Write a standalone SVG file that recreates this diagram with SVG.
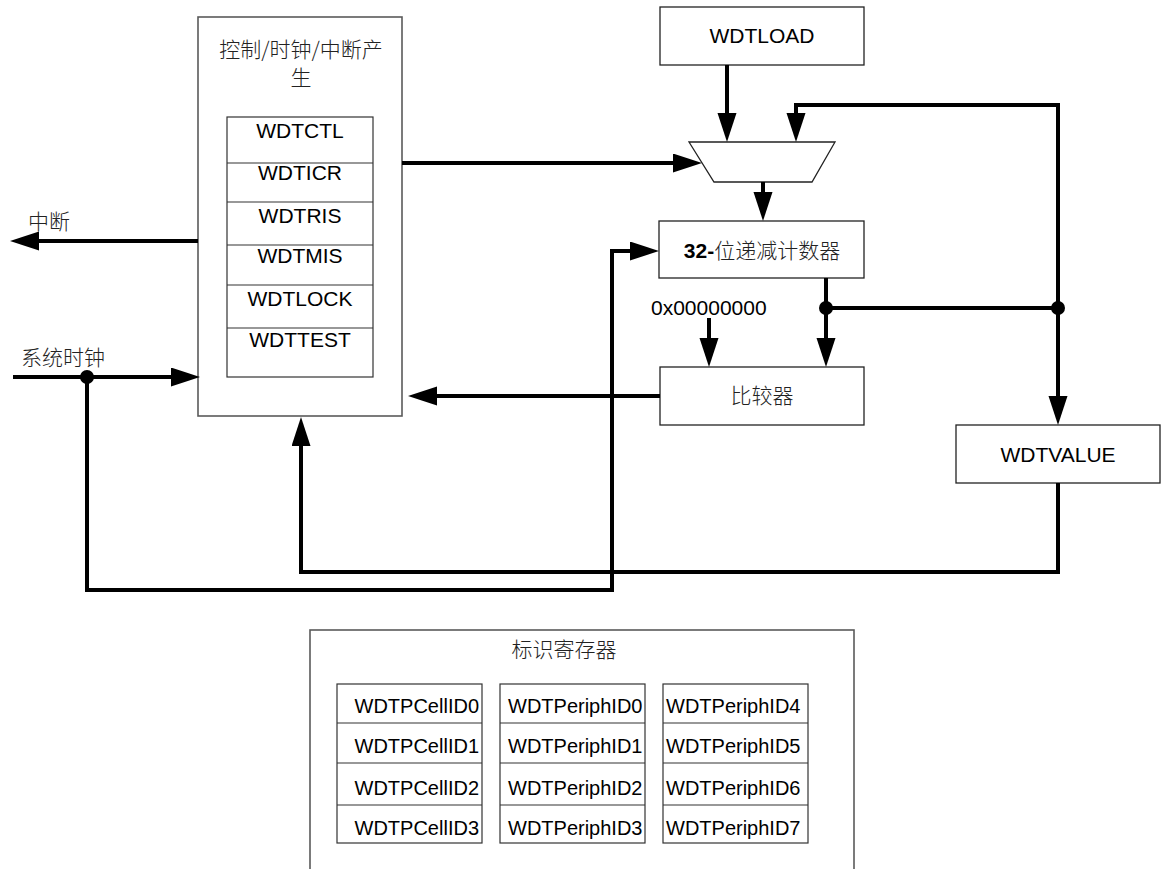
<svg xmlns="http://www.w3.org/2000/svg" width="1161" height="869" viewBox="0 0 1161 869">
<style>
.bg{fill:#fff}
.outer{fill:#fff;stroke:#5a5a5a;stroke-width:1.6}
.box{fill:#fff;stroke:#222;stroke-width:1.3}
.cell{fill:#fff;stroke:#333;stroke-width:1.2}
.w{stroke:#000;stroke-width:4;fill:none;stroke-linejoin:miter}
.dot{fill:#000}
.lat{font-family:"Liberation Sans",Arial,sans-serif;font-size:21px;fill:#000}
.id{font-family:"Liberation Sans",Arial,sans-serif;font-size:20px;fill:#000}
.cjk{font-family:"Noto Sans CJK SC","Liberation Sans",sans-serif;font-size:21px;fill:#222;font-weight:300}
.mid{text-anchor:middle}
</style>
<defs>
<marker id="ah" markerUnits="userSpaceOnUse" markerWidth="30" markerHeight="20" refX="19" refY="9.5" orient="auto">
<path d="M0,0 L29,9.5 L0,19 Z" fill="#000"/>
</marker>
</defs>
<rect class="bg" x="0" y="0" width="1161" height="869"/>

<g id="ctrl">
<rect class="outer" x="198" y="17" width="204" height="399"/>
<text class="cjk mid" x="301" y="57">控制/时钟/中断产</text>
<text class="cjk mid" x="301" y="85">生</text>
<rect class="cell" x="227" y="117" width="146" height="260"/>
<line class="cell" x1="227" y1="163" x2="373" y2="163"/>
<line class="cell" x1="227" y1="202" x2="373" y2="202"/>
<line class="cell" x1="227" y1="245" x2="373" y2="245"/>
<line class="cell" x1="227" y1="285" x2="373" y2="285"/>
<line class="cell" x1="227" y1="328" x2="373" y2="328"/>
<text class="lat mid" x="300" y="138">WDTCTL</text>
<text class="lat mid" x="300" y="180">WDTICR</text>
<text class="lat mid" x="300" y="223">WDTRIS</text>
<text class="lat mid" x="300" y="263">WDTMIS</text>
<text class="lat mid" x="300" y="306">WDTLOCK</text>
<text class="lat mid" x="300" y="347">WDTTEST</text>
</g>

<g id="wdtload">
<rect class="box" x="660" y="7" width="204" height="58"/>
<text class="lat mid" x="762" y="43">WDTLOAD</text>
</g>

<g id="mux">
<polygon class="box" points="689,142 835,142 812,182 714,182"/>
</g>

<g id="counter">
<rect class="box" x="659" y="221" width="205" height="57"/>
<text x="762" y="258" class="mid"><tspan font-family="Liberation Sans, Arial, sans-serif" font-weight="bold" font-size="21">32-</tspan><tspan class="cjk" font-size="22">位递减计数器</tspan></text>
</g>

<g id="compare">
<rect class="box" x="660" y="367" width="204" height="58"/>
<text class="cjk mid" x="762" y="403" font-size="22">比较器</text>
</g>

<g id="wdtvalue">
<rect class="box" x="956" y="425" width="204" height="58"/>
<text class="lat mid" x="1058" y="462">WDTVALUE</text>
</g>

<g id="zero">
<text class="lat" x="651" y="315">0x00000000</text>
</g>

<g id="irq-label">
<text class="cjk" x="28" y="229">中断</text>
</g>

<g id="clk-label">
<text class="cjk" x="21" y="365">系统时钟</text>
</g>

<g id="idregs">
<rect class="outer" x="310" y="630" width="544" height="260"/>
<text class="cjk mid" x="564" y="657">标识寄存器</text>
<rect class="cell" x="337" y="684" width="145" height="159"/>
<rect class="cell" x="500" y="684" width="145" height="159"/>
<rect class="cell" x="663" y="684" width="145" height="159"/>
<path class="cell" d="M337,723 H482 M337,763 H482 M337,805 H482 M500,723 H645 M500,763 H645 M500,805 H645 M663,723 H808 M663,763 H808 M663,805 H808"/>
<text class="id" text-anchor="end" x="479" y="713">WDTPCellID0</text>
<text class="id" text-anchor="end" x="479" y="753">WDTPCellID1</text>
<text class="id" text-anchor="end" x="479" y="795">WDTPCellID2</text>
<text class="id" text-anchor="end" x="479" y="835">WDTPCellID3</text>
<text class="id" x="508" y="713">WDTPeriphID0</text>
<text class="id" x="508" y="753">WDTPeriphID1</text>
<text class="id" x="508" y="795">WDTPeriphID2</text>
<text class="id" x="508" y="835">WDTPeriphID3</text>
<text class="id" x="666" y="713">WDTPeriphID4</text>
<text class="id" x="666" y="753">WDTPeriphID5</text>
<text class="id" x="666" y="795">WDTPeriphID6</text>
<text class="id" x="666" y="835">WDTPeriphID7</text>
</g>

<g id="connectors">
<path class="w" d="M727,65 V132" marker-end="url(#ah)"/>
<path class="w" d="M1058,308 V105 H796 V132" marker-end="url(#ah)"/>
<path class="w" d="M402,163 H692" marker-end="url(#ah)"/>
<path class="w" d="M763,182 V211" marker-end="url(#ah)"/>
<path class="w" d="M826,278 V357" marker-end="url(#ah)"/>
<path class="w" d="M826,308 H1058"/>
<path class="w" d="M1058,308 V415" marker-end="url(#ah)"/>
<path class="w" d="M709,318 V357" marker-end="url(#ah)"/>
<path class="w" d="M660,396 H418" marker-end="url(#ah)"/>
<path class="w" d="M1058,483 V572 H301 V427" marker-end="url(#ah)"/>
<path class="w" d="M198,241 H20" marker-end="url(#ah)"/>
<path class="w" d="M13,377 H190" marker-end="url(#ah)"/>
<path class="w" d="M87,377 V590 H612 V251 H649" marker-end="url(#ah)"/>
<circle class="dot" cx="87" cy="377" r="7"/>
<circle class="dot" cx="826" cy="308" r="7"/>
<circle class="dot" cx="1058" cy="308" r="7"/>
</g>
</svg>
